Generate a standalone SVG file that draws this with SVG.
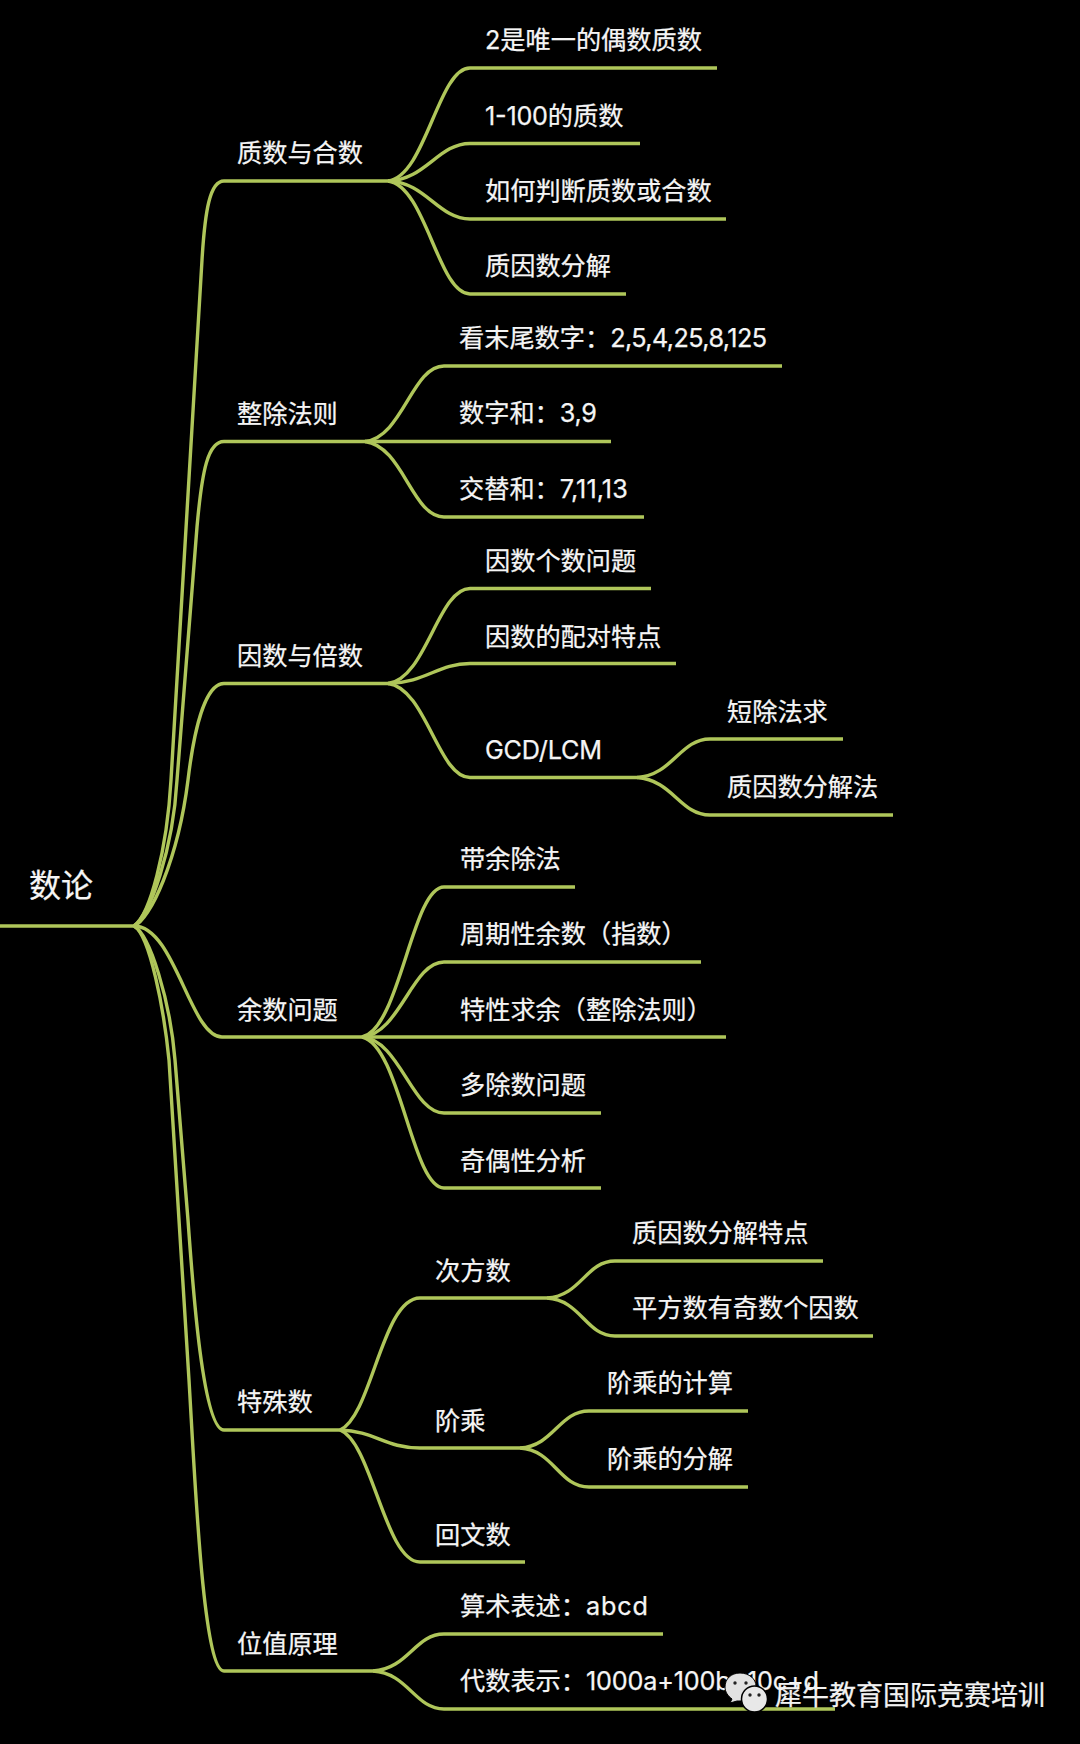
<svg xmlns="http://www.w3.org/2000/svg" width="1080" height="1744" viewBox="0 0 1080 1744">
<style>
text{font-family:"Inter","Noto Sans CJK SC","Noto Sans CJK JP",sans-serif;font-size:25.2px;fill:#f5f5f5;stroke:#f5f5f5;stroke-width:.25px}
.root{font-size:32px}
.wm{font-size:27px;fill:#f2f2f2}
.c{fill:none;stroke:#afc65a;stroke-width:3.4;stroke-linecap:butt}
</style>
<rect width="1080" height="1744" fill="#000"/>
<g id="connectors" class="c">
<path class="c" d="M0,926 H134"/>
<path class="c" d="M134,926 C150,915 167,850 171,780 L202,260 C205,210 210,181 224,181 H388"/>
<path class="c" d="M134,926 C150,915 173,850 177,780 L197,527 C202,470 208,441.5 224,441.5 H365"/>
<path class="c" d="M134,926 C150,920 178,860 188,780 C194,730 205,683.5 224,683.5 H388"/>
<path class="c" d="M134,926 C175,926 190,1037 222,1037 H362"/>
<path class="c" d="M134,926 C150,935 170,1000 175,1060 L188,1220 C193,1290 203,1430 224,1430 H340"/>
<path class="c" d="M134,926 C150,935 164,1010 169,1060 L189,1380 C195,1480 203,1671 224,1671 H373"/>
<path class="c" d="M388,181 C426,176 438,68 470,68 H717"/>
<path class="c" d="M388,181 C426,180 438,143.5 470,143.5 H640"/>
<path class="c" d="M388,181 C426,182 438,219 470,219 H726"/>
<path class="c" d="M388,181 C426,186 438,294 470,294 H626"/>
<path class="c" d="M365,441.5 C403,437 412,366 444,366 H782"/>
<path class="c" d="M365,441.5 H611"/>
<path class="c" d="M365,441.5 C403,446 412,517 444,517 H644"/>
<path class="c" d="M388,683.5 C426,679 438,588.5 470,588.5 H651"/>
<path class="c" d="M388,683.5 C426,682.5 438,663.5 470,663.5 H676"/>
<path class="c" d="M388,683.5 C426,688 438,777.5 470,777.5 H637"/>
<path class="c" d="M637,777.5 C673,775 680,739 710,739 H843"/>
<path class="c" d="M637,777.5 C673,780 680,815 710,815 H893"/>
<path class="c" d="M362,1037 C400,1029 412,887 444,887 H575"/>
<path class="c" d="M362,1037 C400,1034 412,962 444,962 H701"/>
<path class="c" d="M362,1037 H726"/>
<path class="c" d="M362,1037 C400,1040 412,1113 444,1113 H601"/>
<path class="c" d="M362,1037 C400,1045 412,1188 444,1188 H601"/>
<path class="c" d="M340,1430 C372,1416 382,1298 420,1298 H547"/>
<path class="c" d="M340,1430 C375,1431 385,1448 420,1448 H520"/>
<path class="c" d="M340,1430 C372,1442 385,1562 420,1562 H525"/>
<path class="c" d="M547,1298 C581,1296 586,1261 615,1261 H823"/>
<path class="c" d="M547,1298 C581,1300 586,1336 615,1336 H873"/>
<path class="c" d="M520,1448 C554,1446 559,1411 589,1411 H748"/>
<path class="c" d="M520,1448 C554,1450 559,1487 589,1487 H748"/>
<path class="c" d="M373,1671 C408,1669 415,1634 444,1634 H663"/>
<path class="c" d="M373,1671 C408,1673 415,1709 444,1709 H835"/>
</g>
<g id="n-root"><text class="root" x="29" y="897">数论</text></g>
<g id="n-zhishu"><text x="237" y="162">质数与合数</text></g>
<g id="n-z1"><text x="485" y="49">2是唯一的偶数质数</text></g>
<g id="n-z2"><text x="485" y="124.500"><tspan textLength="63">1-100</tspan>的质数</text></g>
<g id="n-z3"><text x="485" y="200">如何判断质数或合数</text></g>
<g id="n-z4"><text x="485" y="275">质因数分解</text></g>
<g id="n-zhengchu"><text x="237" y="422.500">整除法则</text></g>
<g id="n-e1"><text x="459" y="347">看末尾数字：<tspan textLength="157">2,5,4,25,8,125</tspan></text></g>
<g id="n-e2"><text x="459" y="422">数字和：<tspan textLength="37">3,9</tspan></text></g>
<g id="n-e3"><text x="459" y="498">交替和：<tspan textLength="68">7,11,13</tspan></text></g>
<g id="n-yinshu"><text x="237" y="664.500">因数与倍数</text></g>
<g id="n-y1"><text x="485" y="570">因数个数问题</text></g>
<g id="n-y2"><text x="485" y="645.500">因数的配对特点</text></g>
<g id="n-y3"><text x="485" y="758.500" textLength="117">GCD/LCM</text></g>
<g id="n-y31"><text x="727" y="721">短除法求</text></g>
<g id="n-y32"><text x="727" y="796">质因数分解法</text></g>
<g id="n-yushu"><text x="237" y="1018.500">余数问题</text></g>
<g id="n-r1"><text x="460" y="868">带余除法</text></g>
<g id="n-r2"><text x="460" y="943">周期性余数（指数）</text></g>
<g id="n-r3"><text x="460" y="1018.500">特性求余（整除法则）</text></g>
<g id="n-r4"><text x="460" y="1094">多除数问题</text></g>
<g id="n-r5"><text x="460" y="1169.500">奇偶性分析</text></g>
<g id="n-teshu"><text x="237" y="1411">特殊数</text></g>
<g id="n-t1"><text x="435" y="1279.500">次方数</text></g>
<g id="n-t11"><text x="632" y="1242">质因数分解特点</text></g>
<g id="n-t12"><text x="632" y="1317">平方数有奇数个因数</text></g>
<g id="n-t2"><text x="435" y="1430">阶乘</text></g>
<g id="n-t21"><text x="607" y="1392">阶乘的计算</text></g>
<g id="n-t22"><text x="607" y="1468">阶乘的分解</text></g>
<g id="n-t3"><text x="435" y="1543.500">回文数</text></g>
<g id="n-weizhi"><text x="237" y="1652.500">位值原理</text></g>
<g id="n-w1"><text x="460" y="1615">算术表述：<tspan textLength="62">abcd</tspan></text></g>
<g id="n-w2"><text x="460" y="1690">代数表示：<tspan textLength="233">1000a+100b+10c+d</tspan></text></g>
<g id="watermark">
<path d="M740,1673 C731,1673 725,1679 725,1687 C725,1692 728,1696 732,1699 L730,1703 L737,1701 C745,1702 756,1696 756,1686 C756,1679 749,1673 740,1673 Z" fill="#e2e2e2" stroke="#000" stroke-width="1"/>
<circle cx="735" cy="1683" r="1.700" fill="#222"/>
<circle cx="746" cy="1683" r="1.700" fill="#222"/>
<circle cx="754.500" cy="1699" r="13" fill="#e8e8e8" stroke="#000" stroke-width="1.500"/>
<circle cx="750" cy="1695" r="1.700" fill="#222"/>
<circle cx="759" cy="1695" r="1.700" fill="#222"/>
<text class="wm" x="775" y="1705">犀牛教育国际竞赛培训</text>
</g>
</svg>
